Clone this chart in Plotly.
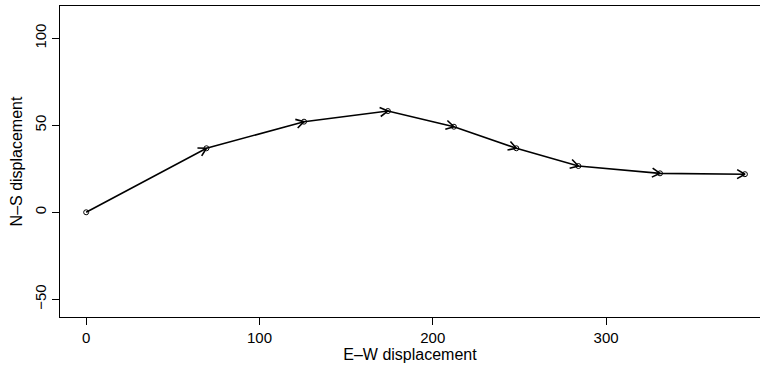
import math
import plotly.graph_objects as go

# Data
ew = [0, 69.4, 125.7, 174.1, 212.2, 248.2, 284.0, 331.1, 380.1]
ns = [0, 36.8, 52.1, 58.2, 49.2, 36.8, 26.6, 22.4, 21.9]
x_ticks = [0, 100, 200, 300]
y_ticks = [-50, 0, 50, 100]
x_title = "E–W displacement"
y_title = "N–S displacement"

W, H = 760, 370
ml, mr, mt, mb = 60, 0, 6, 53
xr = [-15.1, 388.8]
yr = [-60.2, 118.6]
sx = (W - ml - mr) / (xr[1] - xr[0])
sy = (H - mt - mb) / (yr[1] - yr[0])

# open arrowheads (R style "->"), built in pixel space from the data
head_len = 9.0
ang = math.radians(30)
hx, hy = [], []
for i in range(len(ew) - 1):
    dx = (ew[i + 1] - ew[i]) * sx
    dy = (ns[i + 1] - ns[i]) * sy
    th = math.atan2(dy, dx)
    a1 = th + math.pi + ang
    a2 = th + math.pi - ang
    hx += [ew[i + 1] + head_len * math.cos(a1) / sx, ew[i + 1],
           ew[i + 1] + head_len * math.cos(a2) / sx, None]
    hy += [ns[i + 1] + head_len * math.sin(a1) / sy, ns[i + 1],
           ns[i + 1] + head_len * math.sin(a2) / sy, None]

fig = go.Figure()
fig.add_trace(go.Scatter(x=ew, y=ns, mode="lines",
                         line=dict(color="black", width=1.6),
                         hoverinfo="skip", showlegend=False))
fig.add_trace(go.Scatter(x=hx, y=hy, mode="lines",
                         line=dict(color="black", width=1.6),
                         hoverinfo="skip", showlegend=False))
fig.add_trace(go.Scatter(x=ew, y=ns, mode="markers",
                         marker=dict(symbol="circle-open", size=5,
                                     color="black", line=dict(width=1)),
                         showlegend=False))

fam = "Liberation Sans, Arial, Helvetica, sans-serif"
font = dict(family=fam, size=15, color="black")
tfont = dict(family=fam, size=16, color="black")
fig.update_layout(
    width=W, height=H,
    margin=dict(l=ml, r=mr, t=mt, b=mb, pad=0),
    paper_bgcolor="white", plot_bgcolor="white",
    font=font,
    xaxis=dict(range=xr, tickvals=x_ticks, ticks="outside", ticklen=7,
               tickwidth=1, tickcolor="black", showline=True,
               linecolor="black", linewidth=1, mirror=True,
               showgrid=False, zeroline=False,
               title=dict(text=x_title, standoff=3, font=tfont)),
    yaxis=dict(range=yr, tickvals=y_ticks, ticks="outside", ticklen=7,
               tickwidth=1, tickcolor="black", showline=True,
               linecolor="black", linewidth=1, mirror=False,
               showgrid=False, zeroline=False, tickangle=-90,
               title=dict(text=y_title, standoff=5, font=tfont)),
)

fig.write_html("out.html")
